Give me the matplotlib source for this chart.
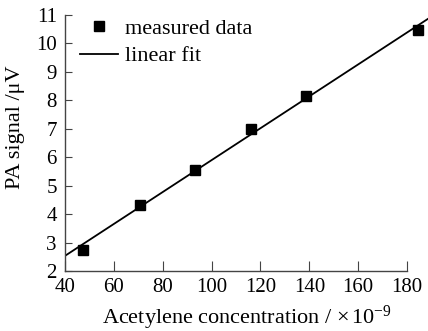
import numpy as np
import matplotlib.pyplot as plt

plt.rcParams['font.family'] = ['Liberation Serif', 'DejaVu Serif']
plt.rcParams['mathtext.fontset'] = 'custom'
plt.rcParams['mathtext.rm'] = 'Liberation Serif'
plt.rcParams['mathtext.it'] = 'Liberation Serif:italic'

conc = np.array([47.2, 70.6, 93.2, 116.3, 138.8, 184.6])
signal = np.array([2.74, 4.31, 5.56, 7.00, 8.16, 10.46])
xticks = [40, 60, 80, 100, 120, 140, 160, 180]
yticks = [2, 3, 4, 5, 6, 7, 8, 9, 10, 11]

k, b = np.polyfit(conc, signal, 1)
xfit = np.array([40, 190])

fig = plt.figure(figsize=(4.28, 3.31), dpi=100)
ax = fig.add_axes([0.152, 0.181, 0.848, 0.774])

ax.plot(conc, signal, 's', color='black', ms=7, label='measured data', clip_on=False)
ax.plot(xfit, k * xfit + b, '-', color='black', lw=1.3, label='linear fit')

ax.set_xlim(40, 188.6)
ax.set_ylim(2, 11)
ax.set_xticks(xticks)
ax.set_yticks(yticks)
ax.spines['top'].set_visible(False)
ax.spines['right'].set_visible(False)
ax.spines['bottom'].set_bounds(40, 180)
for s in ['left', 'bottom']:
    ax.spines[s].set_color('#444444')
    ax.spines[s].set_linewidth(1.0)
ax.tick_params(axis='x', direction='in', length=7, labelsize=15, color='#444444', pad=5)
ax.tick_params(axis='y', direction='in', length=5, labelsize=15, color='#444444', pad=6)

ax.set_xlabel('Acetylene concentration / $\\times\\,10^{-9}$', fontsize=16, labelpad=5)
ax.set_ylabel('PA signal /\u03bcV', fontsize=16)
ax.yaxis.set_label_coords(-0.11, 0.56)

ax.legend(loc='upper left', frameon=False, fontsize=16, handlelength=1.7,
          handletextpad=0.3, labelspacing=0.3, borderaxespad=0.0,
          bbox_to_anchor=(0.018, 1.02))

fig.savefig('out.png', dpi=100)
